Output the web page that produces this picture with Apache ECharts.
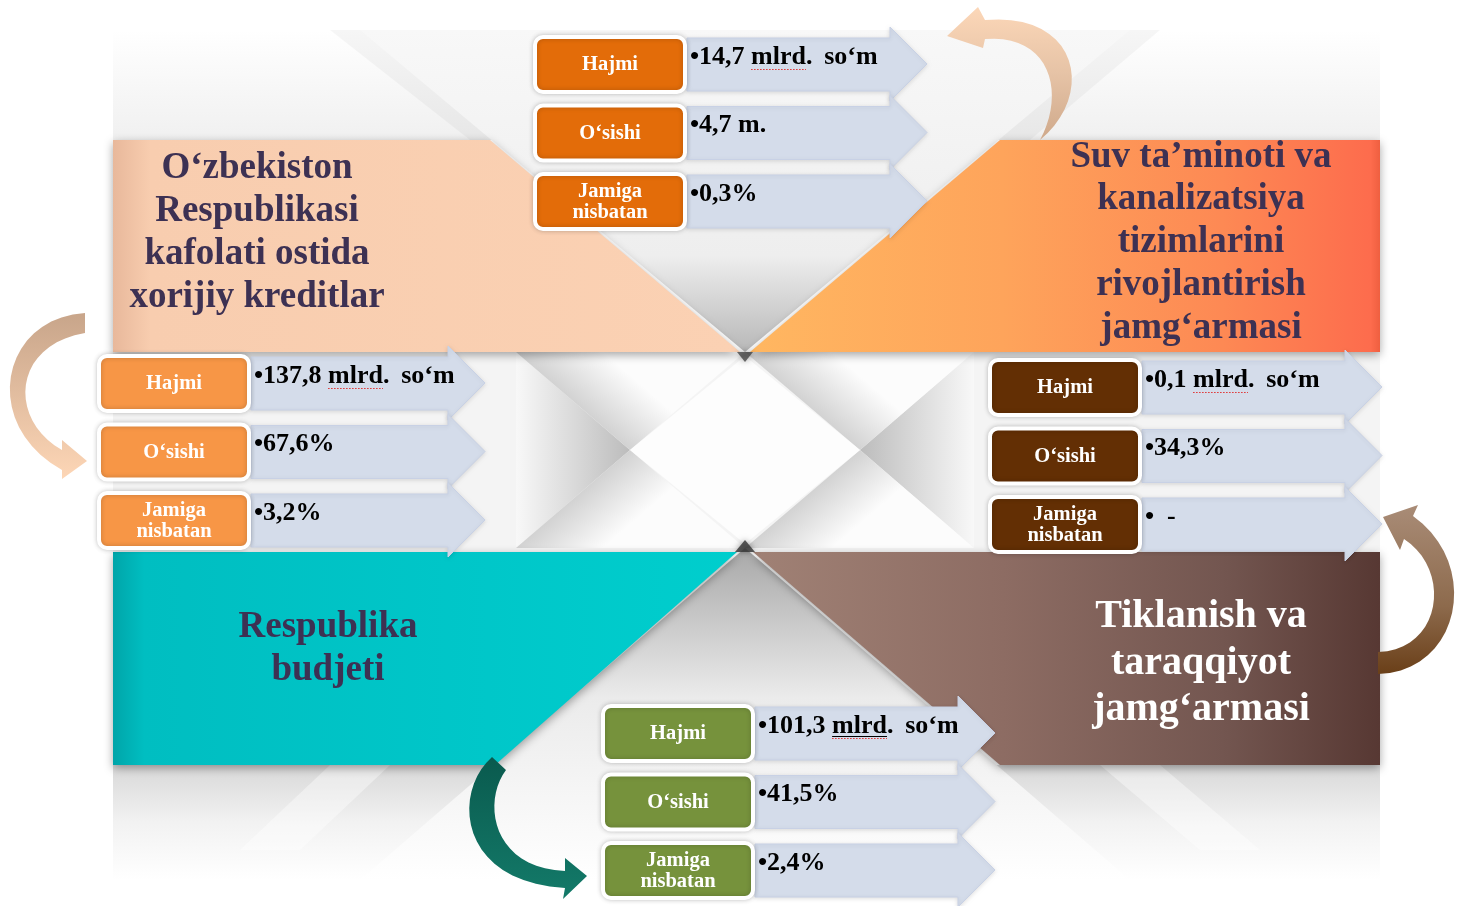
<!DOCTYPE html>
<html>
<head>
<meta charset="utf-8">
<script src="https://cdn.jsdelivr.net/npm/echarts@6/dist/echarts.min.js"></script>
<style>
  html, body { margin: 0; padding: 0; background: #fff; }
  #main { width: 1459px; height: 906px; }
</style>
</head>
<body>
<div id="main"></div>
<script>
// four sources of financing: top-left, top-right, bottom-left, bottom-right
var fundTitles = [
  'O‘zbekiston\nRespublikasi\nkafolati ostida\nxorijiy kreditlar',
  'Suv ta’minoti va\nkanalizatsiya\ntizimlarini\nrivojlantirish\njamg‘armasi',
  'Respublika\nbudjeti',
  'Tiklanish va\ntaraqqiyot\njamg‘armasi'
];
var rowLabels = ['Hajmi', 'O‘sishi', 'Jamiga\nnisbatan'];
var volumeValues = ['137,8 mlrd. \u2009so‘m', '14,7 mlrd. \u2009so‘m', '101,3 mlrd. \u2009so‘m', '0,1 mlrd. \u2009so‘m'];
var growthValues = ['67,6%', '4,7 m.', '41,5%', '34,3%'];
var shareValues = ['3,2%', '0,3%', '2,4%', '  -'];

var chart = echarts.init(document.getElementById('main'));
var G = echarts.graphic;
var serif = '"Liberation Serif", "Times New Roman", serif';

function lin(x, y, x2, y2, stops) {
  return new G.LinearGradient(x, y, x2, y2, stops.map(function (s) {
    return { offset: s[0], color: s[1] };
  }), true);
}

function poly(points, fill, extra) {
  var st = { fill: fill };
  for (var k in (extra || {})) st[k] = extra[k];
  return { type: 'polygon', silent: true, shape: { points: points }, style: st };
}

function txt(text, x, y, font, color, align, lh) {
  return {
    type: 'text', silent: true,
    style: {
      text: text, x: x, y: y, font: font, fill: color,
      align: align || 'center', verticalAlign: 'middle',
      lineHeight: lh
    }
  };
}

// turn a simple "M/L/C/Z" outline into polygon points (beziers sampled)
function outline(d) {
  var t = d.match(/[MLCZ]|-?[\d.]+/g), pts = [], i = 0, cur = null, cmd;
  while (i < t.length) {
    if (/[MLCZ]/.test(t[i])) { cmd = t[i++]; if (cmd === 'Z') continue; }
    if (cmd === 'M' || cmd === 'L') {
      cur = [+t[i], +t[i + 1]]; pts.push(cur); i += 2;
    } else if (cmd === 'C') {
      var p1 = [+t[i], +t[i + 1]], p2 = [+t[i + 2], +t[i + 3]], p3 = [+t[i + 4], +t[i + 5]];
      for (var s = 1; s <= 20; s++) {
        var u = s / 20, a = (1 - u) * (1 - u) * (1 - u), b = 3 * u * (1 - u) * (1 - u),
          c = 3 * u * u * (1 - u), e = u * u * u;
        pts.push([a * cur[0] + b * p1[0] + c * p2[0] + e * p3[0],
          a * cur[1] + b * p1[1] + c * p2[1] + e * p3[1]]);
      }
      cur = p3; i += 6;
    }
  }
  return pts;
}

var els = [];

// ---- background: grey folded X ----
els.push({ type: 'rect', silent: true, shape: { x: 113, y: 30, width: 1267, height: 110 },
  style: { fill: lin(0, 30, 0, 140, [[0, '#ffffff'], [1, '#f0f0f0']]) } });
els.push(poly([[330, 30], [390, 30], [520, 140], [470, 140]], 'rgba(0,0,0,0.035)'));
els.push(poly([[1100, 30], [1160, 30], [1030, 140], [980, 140]], 'rgba(0,0,0,0.035)'));
els.push(poly([[360, 30], [1130, 30], [745, 352]],
  lin(0, 30, 0, 352, [[0, '#f8f8f8'], [0.7, '#eeeeee'], [1, '#b8b8b8']])));

els.push({ type: 'rect', silent: true, shape: { x: 113, y: 352, width: 1267, height: 200 },
  style: { fill: '#f4f4f4' } });
els.push(poly([[516, 352], [630, 450], [516, 548]], lin(630, 450, 516, 450, [[0, '#bcbcbc'], [1, '#f8f8f8']])));
els.push(poly([[974, 352], [860, 450], [974, 548]], lin(860, 450, 974, 450, [[0, '#bcbcbc'], [1, '#f8f8f8']])));
els.push(poly([[516, 352], [745, 352], [630, 450]], lin(573, 401, 610, 358, [[0, '#d2d2d2'], [1, '#fcfcfc']])));
els.push(poly([[516, 548], [745, 548], [630, 450]], lin(573, 499, 610, 542, [[0, '#d2d2d2'], [1, '#fcfcfc']])));
els.push(poly([[745, 352], [974, 352], [860, 450]], lin(802, 401, 839, 358, [[0, '#d2d2d2'], [1, '#fcfcfc']])));
els.push(poly([[745, 548], [974, 548], [860, 450]], lin(802, 499, 839, 542, [[0, '#d2d2d2'], [1, '#fcfcfc']])));
els.push(poly([[745, 356], [860, 450], [745, 544], [630, 450]], '#fdfdfd'));

els.push({ type: 'rect', silent: true, shape: { x: 113, y: 765, width: 1267, height: 115 },
  style: { fill: lin(0, 765, 0, 880, [[0, '#d8d8d8'], [0.5, '#f2f2f2'], [1, '#ffffff']]) } });
els.push(poly([[745, 548], [1130, 880], [360, 880]],
  lin(0, 548, 0, 880, [[0, '#a8a8a8'], [0.45, '#ebebeb'], [1, '#ffffff']])));
els.push(poly([[330, 765], [390, 765], [300, 850], [240, 850]], 'rgba(255,255,255,0.4)'));
els.push(poly([[1100, 765], [1160, 765], [1260, 850], [1200, 850]], 'rgba(255,255,255,0.4)'));

// ---- coloured panels ----
var shadow = { shadowBlur: 10, shadowColor: 'rgba(0,0,0,0.35)', shadowOffsetY: 3 };
var panels = [
  { pts: [[113, 140], [490, 140], [740, 352], [113, 352]],
    fill: lin(113, 0, 740, 0, [[0, '#e8b89b'], [0.06, '#f8cdaf'], [1, '#fbd1b3']]),
    cx: 257, cy: 168, size: 37, lh: 43.3, color: '#3d3153' },
  { pts: [[1000, 140], [1380, 140], [1380, 352], [750, 352]],
    fill: lin(750, 0, 1380, 0, [[0, '#ffb761'], [0.4, '#fea45b'], [0.75, '#fd8954'], [0.985, '#fd6c4d'], [1, '#ef5f40']]),
    cx: 1201, cy: 157, size: 37, lh: 42.8, color: '#3d3153' },
  { pts: [[113, 552], [737, 552], [495, 765], [113, 765]],
    fill: lin(113, 0, 737, 0, [[0, '#00a5a9'], [0.05, '#00bec1'], [0.6, '#00c7c9'], [1, '#00cecd']]),
    cx: 328, cy: 627, size: 37, lh: 43, color: '#3d3153' },
  { pts: [[753, 552], [1380, 552], [1380, 765], [1000, 765]],
    fill: lin(753, 0, 1380, 0, [[0, '#a08175'], [0.4, '#8d6c63'], [0.75, '#735650'], [1, '#573833']]),
    cx: 1201, cy: 617, size: 40, lh: 46.5, color: '#ffffff' }
];
panels.forEach(function (p) {
  els.push(poly(p.pts, p.fill, shadow));
});
// dark creases at the two apexes
els.push(poly([[737, 352], [753, 352], [745, 362]], 'rgba(60,60,60,0.75)', { shadowBlur: 6, shadowColor: 'rgba(0,0,0,0.5)' }));
els.push(poly([[735, 552], [755, 552], [745, 540]], 'rgba(50,50,50,0.8)', { shadowBlur: 6, shadowColor: 'rgba(0,0,0,0.5)' }));

panels.forEach(function (p, i) {
  els.push(txt(fundTitles[i], p.cx, p.cy + (fundTitles[i].split('\n').length - 1) * p.lh / 2,
    'bold ' + p.size + 'px ' + serif, p.color, 'center', p.lh));
});

// ---- curved arrows ----
var curves = [
  { d: 'M85 313 C0 318 -20 425 62 470 L62 479 L87 461 L62 440 L62 450 C8 420 12 345 85 333 Z',
    fill: lin(0, 313, 0, 479, [[0, '#c8a58a'], [1, '#fdd6b6']]) },
  { d: 'M1040 140 C1095 95 1080 12 985 20 L978 7 L947 36 L983 48 L985 39 C1050 34 1066 92 1040 140 Z',
    fill: lin(0, 140, 0, 7, [[0, '#cfa98b'], [0.5, '#e6c3a6'], [1, '#fcd7b8']]) },
  { d: 'M492 757 C452 792 458 882 565 888 L563 899 L587 876 L565 858 L565 871 C492 868 482 802 506 770 Z',
    fill: lin(0, 757, 0, 899, [[0, '#0a5a4e'], [1, '#137a69']]) },
  { d: 'M1378 674 C1460 672 1482 565 1413 516 L1418 505 L1383 517 L1400 550 L1404 539 C1452 570 1442 650 1378 652 Z',
    fill: lin(0, 505, 0, 674, [[0, '#a98c77'], [0.6, '#8d6a4c'], [1, '#6a3f18']]) }
];
curves.forEach(function (c) {
  els.push(poly(outline(c.d), c.fill));
});

// ---- info groups ----
var groups = [
  { x: 99, y: 356, tip: 485, color: '#f79646' },
  { x: 535, y: 37, tip: 927, color: '#e36c09' },
  { x: 603, y: 706, tip: 995, color: '#76923c' },
  { x: 990, y: 360, tip: 1382, color: '#632f04' }
];
var step = 68.5;
var valueFont = 'bold 26px ' + serif;
var measureCtx = document.createElement('canvas').getContext('2d');
measureCtx.font = valueFont;

groups.forEach(function (g, gi) {
  var values = [volumeValues[gi], growthValues[gi], shareValues[gi]];
  var x0 = g.x + 152, hb = g.tip - 37;
  values.forEach(function (v, r) {
    var top = g.y + r * step;
    els.push(poly([[x0, top + 1], [hb, top + 1], [hb, top - 10], [g.tip, top + 27],
      [hb, top + 64], [hb, top + 54], [x0, top + 54]], '#d4dcea',
      { stroke: '#c8d1e5', lineWidth: 1, shadowBlur: 4, shadowColor: 'rgba(0,0,0,0.12)', shadowOffsetY: 1 }));
  });
  values.forEach(function (v, r) {
    var top = g.y + r * step;
    els.push({ type: 'rect', silent: true,
      shape: { x: g.x, y: top, width: 150, height: 55, r: 8 },
      style: { fill: g.color, stroke: '#ffffff', lineWidth: 4,
        shadowBlur: 5, shadowColor: 'rgba(0,0,0,0.2)' } });
    els.push(txt(rowLabels[r], g.x + 75, top + 28, 'bold 20.5px ' + serif, '#ffffff', 'center', 21));
    var label = '•' + v;
    els.push(txt(label, x0 + 3, top + 20, valueFont, '#000000', 'left'));
    var idx = label.indexOf('mlrd');
    if (idx >= 0) {
      var ux = x0 + 3 + measureCtx.measureText(label.slice(0, idx)).width;
      var uw = measureCtx.measureText('mlrd').width;
      if (gi === 2) {
        els.push({ type: 'line', silent: true, shape: { x1: ux, y1: top + 30.5, x2: ux + uw, y2: top + 30.5 },
          style: { stroke: '#000', lineWidth: 1.2 } });
      }
      els.push({ type: 'line', silent: true, shape: { x1: ux, y1: top + 32.5, x2: ux + uw, y2: top + 32.5 },
        style: { stroke: '#e03030', lineWidth: 1, lineDash: [1.5, 1.5] } });
    }
  });
});

chart.setOption({
  backgroundColor: '#ffffff',
  animation: false,
  graphic: { elements: els }
});
</script>
</body>
</html>
